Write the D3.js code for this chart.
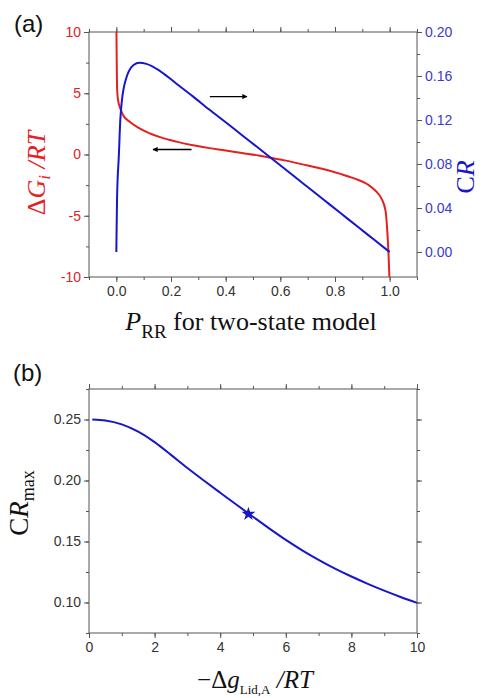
<!DOCTYPE html>
<html lang="en">
<head>
<meta charset="UTF-8">
<title>CR two-state model</title>
<script src="https://d3js.org/d3.v7.min.js"></script>
<style>
    body { margin: 0; background: #fff; }
    .tick text { font-family: "Liberation Sans", Arial, sans-serif; font-size: 14px; }
    .serif { font-family: "Liberation Serif", "Times New Roman", Times, serif; }
</style>
</head>
<body>
<svg width="484" height="698"></svg>
<script>
    // panel (a): P_RR vs dG/RT (red) and CR (blue)
    var pRed = [0.0005, 0.0015, 0.003, 0.006, 0.0145, 0.025, 0.05, 0.08, 0.12, 0.16, 0.22, 0.28, 0.34, 0.40, 0.46, 0.52, 0.56, 0.62, 0.70, 0.76, 0.82, 0.87, 0.92, 0.95, 0.97, 0.985, 0.992, 0.996, 0.999];
    var dG   = [10, 7.4, 5.3, 4.5, 3.75, 3.2, 2.65, 2.2, 1.75, 1.42, 1.05, 0.75, 0.52, 0.33, 0.12, -0.08, -0.25, -0.5, -0.9, -1.2, -1.58, -1.95, -2.45, -3.0, -3.6, -4.6, -6.5, -8.2, -10];
    var pBlue = [0, 0.001, 0.0025, 0.005, 0.0085, 0.0145, 0.02, 0.027, 0.035, 0.045, 0.063, 0.085, 0.11, 0.16, 0.22, 0.28, 0.34, 0.40, 0.46, 0.52, 0.58, 0.64, 0.70, 0.76, 0.82, 0.88, 0.94, 1.0];
    var cr    = [0.0, 0.02, 0.047, 0.068, 0.084, 0.120, 0.137, 0.149, 0.157, 0.164, 0.170, 0.172, 0.171, 0.1645, 0.153, 0.1415, 0.1295, 0.1180, 0.1062, 0.0945, 0.0827, 0.0709, 0.0591, 0.0473, 0.0355, 0.0236, 0.0118, 0.0];

    // panel (b): -dg_Lid,A/RT vs CR_max
    var gLid  = [0.1, 0.5, 1, 1.5, 2, 2.5, 3, 3.5, 4, 4.5, 5, 5.5, 6, 6.5, 7, 7.5, 8, 8.5, 9, 9.5, 10];
    var crMax = [0.2500, 0.2492, 0.2460, 0.2400, 0.2315, 0.2210, 0.2102, 0.2000, 0.1900, 0.1801, 0.1703, 0.1606, 0.1513, 0.1428, 0.1350, 0.1278, 0.1213, 0.1153, 0.1097, 0.1045, 0.0997];
    var starPt = [4.86, 0.1725];

    var xTicksA = [0, 0.2, 0.4, 0.6, 0.8, 1.0];
    var yTicksL = [-10, -5, 0, 5, 10];
    var yTicksR = [0, 0.04, 0.08, 0.12, 0.16, 0.20];
    var xTicksB = [0, 2, 4, 6, 8, 10];
    var yTicksB = [0.10, 0.15, 0.20, 0.25];

    var RED = "#e3211f", BLUE = "#1616cc", AXIS = "#555";
    var SERIF = "'Liberation Serif', 'Times New Roman', Times, serif";

    var svg = d3.select("svg");
    svg.append("rect").attr("width", 484).attr("height", 698).attr("fill", "#fff");

    var defs = svg.append("defs");
    defs.append("marker").attr("id", "head")
        .attr("viewBox", "0 0 10 10").attr("refX", 9).attr("refY", 5)
        .attr("markerWidth", 5).attr("markerHeight", 4).attr("orient", "auto")
        .append("path").attr("d", "M0,0L10,5L0,10z").attr("fill", "#000");

    function styleAxis(g, color) {
        g.select(".domain").remove();
        g.selectAll(".tick line").attr("stroke", AXIS);
        g.selectAll(".tick text").attr("fill", color);
    }
    function minor(lo, hi, step) {
        return d3.range(lo, hi + step / 2, step);
    }

    // ---------- panel (a) ----------
    var L = 89, R = 417, T1 = 32, B1 = 277;
    var xA = d3.scaleLinear().domain([-0.1, 1.1]).range([L, R]);
    var yL = d3.scaleLinear().domain([-10, 10]).range([B1, T1]);
    var yR = d3.scaleLinear().domain([-0.0227, 0.2]).range([B1, T1]);

    defs.append("clipPath").attr("id", "clipA").append("rect")
        .attr("x", L).attr("y", T1).attr("width", R - L).attr("height", B1 - T1);

    var gA = svg.append("g");
    // minor ticks
    gA.append("g").attr("transform", "translate(0," + B1 + ")")
        .call(d3.axisBottom(xA).tickValues(minor(-0.1, 1.1, 0.1)).tickSize(3).tickFormat(""))
        .call(styleAxis, "#333");
    gA.append("g").attr("transform", "translate(0," + T1 + ")")
        .call(d3.axisTop(xA).tickValues(minor(-0.1, 1.1, 0.1)).tickSize(3).tickFormat(""))
        .call(styleAxis, "#333");
    gA.append("g").attr("transform", "translate(" + L + ",0)")
        .call(d3.axisLeft(yL).tickValues(minor(-10, 10, 2.5)).tickSize(3).tickFormat(""))
        .call(styleAxis, RED);
    gA.append("g").attr("transform", "translate(" + R + ",0)")
        .call(d3.axisRight(yR).tickValues(minor(0, 0.2, 0.02)).tickSize(3).tickFormat(""))
        .call(styleAxis, BLUE);
    // major ticks
    gA.append("g").attr("transform", "translate(0," + B1 + ")")
        .call(d3.axisBottom(xA).tickValues(xTicksA).tickSize(5).tickPadding(4).tickFormat(d3.format(".1f")))
        .call(styleAxis, "#333");
    gA.append("g").attr("transform", "translate(0," + T1 + ")")
        .call(d3.axisTop(xA).tickValues(xTicksA).tickSize(5).tickFormat(""))
        .call(styleAxis, "#333");
    gA.append("g").attr("transform", "translate(" + L + ",0)")
        .call(d3.axisLeft(yL).tickValues(yTicksL).tickSize(5).tickPadding(3).tickFormat(function (d) { return String(d); }))
        .call(styleAxis, RED);
    gA.append("g").attr("transform", "translate(" + R + ",0)")
        .call(d3.axisRight(yR).tickValues(yTicksR).tickSize(5).tickPadding(3).tickFormat(d3.format(".2f")))
        .call(styleAxis, "#3a3ad0");

    gA.append("rect").attr("x", L).attr("y", T1).attr("width", R - L).attr("height", B1 - T1)
        .attr("fill", "none").attr("stroke", AXIS).attr("stroke-width", 1);

    var lineRed = d3.line().x(function (d, i) { return xA(pRed[i]); }).y(function (d) { return yL(d); }).curve(d3.curveMonotoneX);
    var lineBlue = d3.line().x(function (d, i) { return xA(pBlue[i]); }).y(function (d) { return yR(d); }).curve(d3.curveMonotoneX);

    gA.append("path").datum(dG).attr("d", lineRed).attr("clip-path", "url(#clipA)")
        .attr("fill", "none").attr("stroke", RED).attr("stroke-width", 2);
    gA.append("path").datum(cr).attr("d", lineBlue).attr("clip-path", "url(#clipA)")
        .attr("fill", "none").attr("stroke", BLUE).attr("stroke-width", 2);

    // arrows
    gA.append("line").attr("x1", xA(0.342)).attr("x2", xA(0.478)).attr("y1", yL(4.73)).attr("y2", yL(4.73))
        .attr("stroke", "#000").attr("stroke-width", 1.3).attr("marker-end", "url(#head)");
    gA.append("line").attr("x1", xA(0.275)).attr("x2", xA(0.134)).attr("y1", yL(0.41)).attr("y2", yL(0.41))
        .attr("stroke", "#000").attr("stroke-width", 1.3).attr("marker-end", "url(#head)");

    svg.append("text").attr("x", 14).attr("y", 32).attr("font-family", "Liberation Sans, Arial, sans-serif")
        .attr("font-size", 24).attr("fill", "#111").text("(a)");

    var ylA = svg.append("text").attr("class", "serif").attr("font-family", SERIF)
        .attr("transform", "translate(45,173) rotate(-90)")
        .attr("text-anchor", "middle").attr("font-size", 26).attr("fill", RED);
    ylA.append("tspan").text("\u0394");
    ylA.append("tspan").attr("font-style", "italic").text("G");
    ylA.append("tspan").attr("font-style", "italic").attr("font-size", 17).attr("dy", 5).text("i");
    ylA.append("tspan").attr("font-style", "italic").attr("dy", -5).text(" /RT");

    var yrA = svg.append("text").attr("class", "serif").attr("font-family", SERIF)
        .attr("transform", "translate(474,177) rotate(-90)")
        .attr("text-anchor", "middle").attr("font-size", 26).attr("fill", BLUE);
    yrA.append("tspan").text("C");
    yrA.append("tspan").attr("font-style", "italic").text("R");

    var xlA = svg.append("text").attr("class", "serif").attr("font-family", SERIF)
        .attr("x", 251).attr("y", 330)
        .attr("text-anchor", "middle").attr("font-size", 26).attr("fill", "#111");
    xlA.append("tspan").attr("font-style", "italic").text("P");
    xlA.append("tspan").attr("font-size", 19).attr("dy", 8).text("RR");
    xlA.append("tspan").attr("dy", -8).text(" for two-state model");

    // ---------- panel (b) ----------
    var T2 = 389, B2 = 633;
    var xB = d3.scaleLinear().domain([0, 10]).range([L, R]);
    var yB = d3.scaleLinear().domain([0.075, 0.275]).range([B2, T2]);

    var gB = svg.append("g");
    gB.append("g").attr("transform", "translate(0," + B2 + ")")
        .call(d3.axisBottom(xB).tickValues(minor(0, 10, 1)).tickSize(3).tickFormat(""))
        .call(styleAxis, "#333");
    gB.append("g").attr("transform", "translate(0," + T2 + ")")
        .call(d3.axisTop(xB).tickValues(minor(0, 10, 1)).tickSize(3).tickFormat(""))
        .call(styleAxis, "#333");
    gB.append("g").attr("transform", "translate(" + L + ",0)")
        .call(d3.axisLeft(yB).tickValues(minor(0.075, 0.275, 0.025)).tickSize(3).tickFormat(""))
        .call(styleAxis, "#333");
    gB.append("g").attr("transform", "translate(" + R + ",0)")
        .call(d3.axisRight(yB).tickValues(minor(0.075, 0.275, 0.025)).tickSize(3).tickFormat(""))
        .call(styleAxis, "#333");
    gB.append("g").attr("transform", "translate(0," + B2 + ")")
        .call(d3.axisBottom(xB).tickValues(xTicksB).tickSize(5).tickPadding(4).tickFormat(d3.format("d")))
        .call(styleAxis, "#333");
    gB.append("g").attr("transform", "translate(0," + T2 + ")")
        .call(d3.axisTop(xB).tickValues(xTicksB).tickSize(5).tickFormat(""))
        .call(styleAxis, "#333");
    gB.append("g").attr("transform", "translate(" + L + ",0)")
        .call(d3.axisLeft(yB).tickValues(yTicksB).tickSize(5).tickPadding(3).tickFormat(d3.format(".2f")))
        .call(styleAxis, "#333");
    gB.append("g").attr("transform", "translate(" + R + ",0)")
        .call(d3.axisRight(yB).tickValues(yTicksB).tickSize(5).tickFormat(""))
        .call(styleAxis, "#333");

    gB.append("rect").attr("x", L).attr("y", T2).attr("width", R - L).attr("height", B2 - T2)
        .attr("fill", "none").attr("stroke", AXIS).attr("stroke-width", 1);

    var lineB = d3.line().x(function (d, i) { return xB(gLid[i]); }).y(function (d) { return yB(d); }).curve(d3.curveMonotoneX);
    gB.append("path").datum(crMax).attr("d", lineB)
        .attr("fill", "none").attr("stroke", BLUE).attr("stroke-width", 2);

    gB.append("path").attr("d", d3.symbol(d3.symbolStar, 60)())
        .attr("transform", "translate(" + xB(starPt[0]) + "," + yB(starPt[1]) + ")")
        .attr("fill", BLUE);

    svg.append("text").attr("x", 13).attr("y", 381).attr("font-family", "Liberation Sans, Arial, sans-serif")
        .attr("font-size", 24).attr("fill", "#111").text("(b)");

    var ylB = svg.append("text").attr("class", "serif").attr("font-family", SERIF)
        .attr("transform", "translate(28,503) rotate(-90)")
        .attr("text-anchor", "middle").attr("font-size", 27).attr("fill", "#111");
    ylB.append("tspan").text("C");
    ylB.append("tspan").attr("font-style", "italic").text("R");
    ylB.append("tspan").attr("font-size", 18).attr("dy", 6).text("max");

    var xlB = svg.append("text").attr("class", "serif").attr("font-family", SERIF)
        .attr("x", 255).attr("y", 688)
        .attr("text-anchor", "middle").attr("font-size", 25).attr("fill", "#111");
    xlB.append("tspan").text("\u2212\u0394");
    xlB.append("tspan").attr("font-style", "italic").text("g");
    xlB.append("tspan").attr("font-size", 13).attr("dy", 6).text("Lid,A");
    xlB.append("tspan").attr("font-style", "italic").attr("dy", -6).text(" /RT");
</script>
</body>
</html>
